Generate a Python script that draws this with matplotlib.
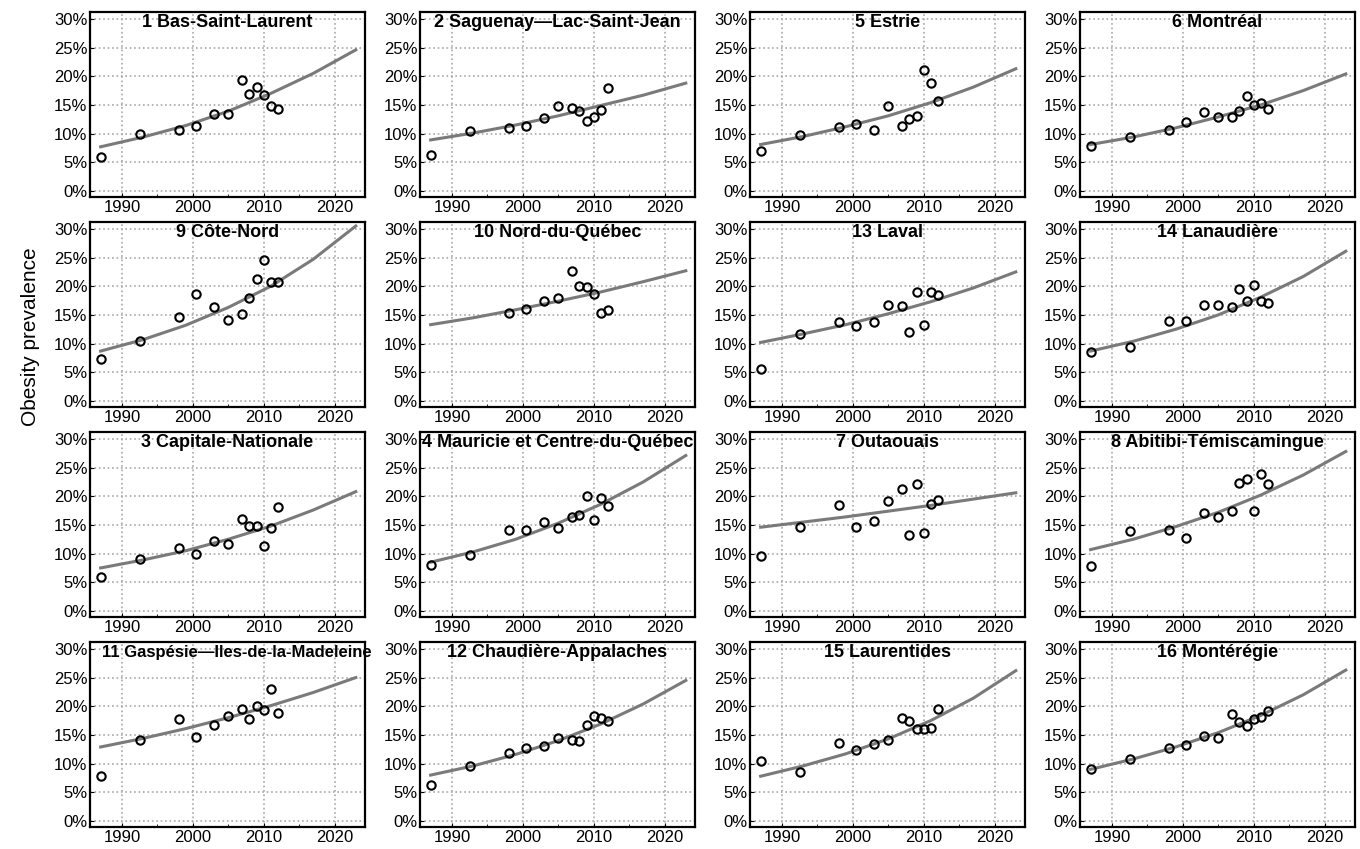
import matplotlib.pyplot as plt
import numpy as np
from matplotlib.ticker import FuncFormatter, MultipleLocator

# survey years (observed prevalence, %)
years = [1987, 1992.5, 1998, 2000.5, 2003, 2005, 2007, 2008, 2009, 2010, 2011, 2012]
fit_years = [1987, 1993, 1999, 2005, 2011, 2017, 2023]

bas_st_laurent = [6.0, 10.0, 10.7, 11.4, 13.4, 13.4, 19.3, 16.9, 18.2, 16.7, 14.9, 14.3]
bas_st_laurent_fit = [7.7, 9.4, 11.4, 13.9, 17.0, 20.5, 24.6]
saguenay = [6.2, 10.4, 11.0, 11.4, 12.8, 14.9, 14.4, 14.0, 12.2, 12.9, 14.2, 17.9]
saguenay_fit = [8.9, 10.1, 11.5, 13.1, 14.9, 16.7, 18.8]
estrie = [7.0, 9.8, 11.2, 11.7, 10.6, 14.9, 11.3, 12.5, 13.1, 21.1, 18.9, 15.6]
estrie_fit = [8.1, 9.5, 11.2, 13.1, 15.4, 18.1, 21.3]
montreal = [7.8, 9.4, 10.7, 12.0, 13.7, 12.9, 12.9, 13.9, 16.5, 15.0, 15.3, 14.3]
montreal_fit = [8.1, 9.4, 11.0, 12.9, 15.0, 17.5, 20.4]

cote_nord = [7.3, 10.5, 14.6, 18.7, 16.4, 14.2, 15.1, 18.0, 21.3, 24.5, 20.8, 20.8]
cote_nord_fit = [8.7, 10.7, 13.2, 16.3, 20.0, 24.7, 30.5]
nord_du_quebec = [np.nan, np.nan, 15.4, 16.0, 17.5, 18.0, 22.6, 20.1, 19.8, 18.7, 15.4, 15.9]
nord_du_quebec_fit = [13.3, 14.5, 15.9, 17.4, 19.0, 20.8, 22.7]
laval = [5.6, 11.6, 13.8, 13.0, 13.8, 16.8, 16.5, 12.0, 19.0, 13.3, 19.0, 18.4]
laval_fit = [10.2, 11.7, 13.3, 15.2, 17.3, 19.7, 22.5]
lanaudiere = [8.6, 9.4, 13.9, 13.9, 16.8, 16.8, 16.3, 19.6, 17.5, 20.3, 17.4, 17.1]
lanaudiere_fit = [8.7, 10.4, 12.5, 15.0, 18.1, 21.7, 26.1]

capitale_nationale = [5.9, 9.1, 11.0, 10.0, 12.2, 11.6, 16.0, 14.9, 14.9, 11.4, 14.5, 18.1]
capitale_nationale_fit = [7.5, 8.9, 10.5, 12.5, 14.8, 17.6, 20.8]
mauricie = [8.1, 9.8, 14.1, 14.1, 15.5, 14.5, 16.4, 16.7, 20.1, 15.9, 19.7, 18.3]
mauricie_fit = [8.5, 10.3, 12.5, 15.3, 18.6, 22.5, 27.1]
outaouais = [9.5, 14.7, 18.5, 14.6, 15.7, 19.1, 21.2, 13.3, 22.2, 13.6, 18.6, 19.3]
outaouais_fit = [14.6, 15.5, 16.4, 17.4, 18.4, 19.5, 20.6]
abitibi = [7.8, 14.0, 14.2, 12.8, 17.1, 16.4, 17.4, 22.3, 23.0, 17.5, 23.8, 22.1]
abitibi_fit = [10.7, 12.5, 14.7, 17.2, 20.2, 23.7, 27.8]

gaspesie = [7.8, 14.1, 17.8, 14.7, 16.8, 18.3, 19.6, 17.8, 20.0, 19.3, 23.0, 18.8]
gaspesie_fit = [12.9, 14.4, 16.1, 18.0, 20.1, 22.4, 25.0]
chaudiere = [6.2, 9.5, 11.8, 12.8, 13.0, 14.5, 14.2, 14.0, 16.8, 18.3, 18.0, 17.5]
chaudiere_fit = [8.0, 9.6, 11.6, 14.0, 16.9, 20.4, 24.5]
laurentides = [10.5, 8.5, 13.6, 12.3, 13.5, 14.2, 18.0, 17.5, 16.0, 16.0, 16.2, 19.5]
laurentides_fit = [7.8, 9.6, 11.7, 14.3, 17.5, 21.4, 26.2]
monteregie = [9.0, 10.8, 12.8, 13.2, 14.8, 14.5, 18.7, 17.3, 16.5, 17.7, 18.2, 19.2]
monteregie_fit = [9.0, 10.8, 12.9, 15.4, 18.4, 22.0, 26.3]

panels = [
    ("1 Bas-Saint-Laurent", bas_st_laurent, bas_st_laurent_fit),
    ("2 Saguenay\u2014Lac-Saint-Jean", saguenay, saguenay_fit),
    ("5 Estrie", estrie, estrie_fit),
    ("6 Montr\u00e9al", montreal, montreal_fit),
    ("9 C\u00f4te-Nord", cote_nord, cote_nord_fit),
    ("10 Nord-du-Qu\u00e9bec", nord_du_quebec, nord_du_quebec_fit),
    ("13 Laval", laval, laval_fit),
    ("14 Lanaudi\u00e8re", lanaudiere, lanaudiere_fit),
    ("3 Capitale-Nationale", capitale_nationale, capitale_nationale_fit),
    ("4 Mauricie et Centre-du-Qu\u00e9bec", mauricie, mauricie_fit),
    ("7 Outaouais", outaouais, outaouais_fit),
    ("8 Abitibi-T\u00e9miscamingue", abitibi, abitibi_fit),
    ("11 Gasp\u00e9sie\u2014Iles-de-la-Madeleine", gaspesie, gaspesie_fit),
    ("12 Chaudi\u00e8re-Appalaches", chaudiere, chaudiere_fit),
    ("15 Laurentides", laurentides, laurentides_fit),
    ("16 Mont\u00e9r\u00e9gie", monteregie, monteregie_fit),
]

plt.rcParams['font.family'] = ['Liberation Sans', 'DejaVu Sans']

W, H = 1360, 849
fig = plt.figure(figsize=(W / 100, H / 100), dpi=100)

lefts = [90, 420, 750, 1080]
tops = [12, 222, 432, 642]
aw, ah = 275, 185

for i, (name, obs, fit) in enumerate(panels):
    r, c = divmod(i, 4)
    ax = fig.add_axes([lefts[c] / W, 1 - (tops[r] + ah) / H, aw / W, ah / H])

    ax.plot(fit_years, fit, color='#7a7a7a', lw=2.2, zorder=2)
    ax.plot(years, obs, 'o', ms=6, mfc='none', mec='black', mew=1.5, zorder=3)

    ax.set_xlim(1985.5, 2024.3)
    ax.set_ylim(-1.05, 31.2)
    ax.xaxis.set_major_locator(MultipleLocator(10))
    ax.xaxis.set_minor_locator(MultipleLocator(5))
    ax.yaxis.set_major_locator(MultipleLocator(5))
    ax.yaxis.set_major_formatter(FuncFormatter(lambda v, p: f'{v:.0f}%'))
    ax.grid(True, which='major', linestyle=':', color='#a8a8a8', lw=1.2)
    ax.tick_params(which='both', direction='in', labelsize=12, pad=2)
    ax.tick_params(which='major', length=3)
    ax.tick_params(which='minor', length=2)
    for s in ax.spines.values():
        s.set_linewidth(1.6)

    # the longest name does not fit the panel at full size
    long_name = len(name) > 31
    ax.text(0.535 if long_name else 0.5, 0.945, name, transform=ax.transAxes,
            ha='center', va='center', fontsize=12 if long_name else 13,
            fontweight='bold')

fig.text(30 / W, 1 - 337 / H, 'Obesity prevalence', rotation=90,
         ha='center', va='center', fontsize=15)

fig.savefig('out.png', dpi=100)
